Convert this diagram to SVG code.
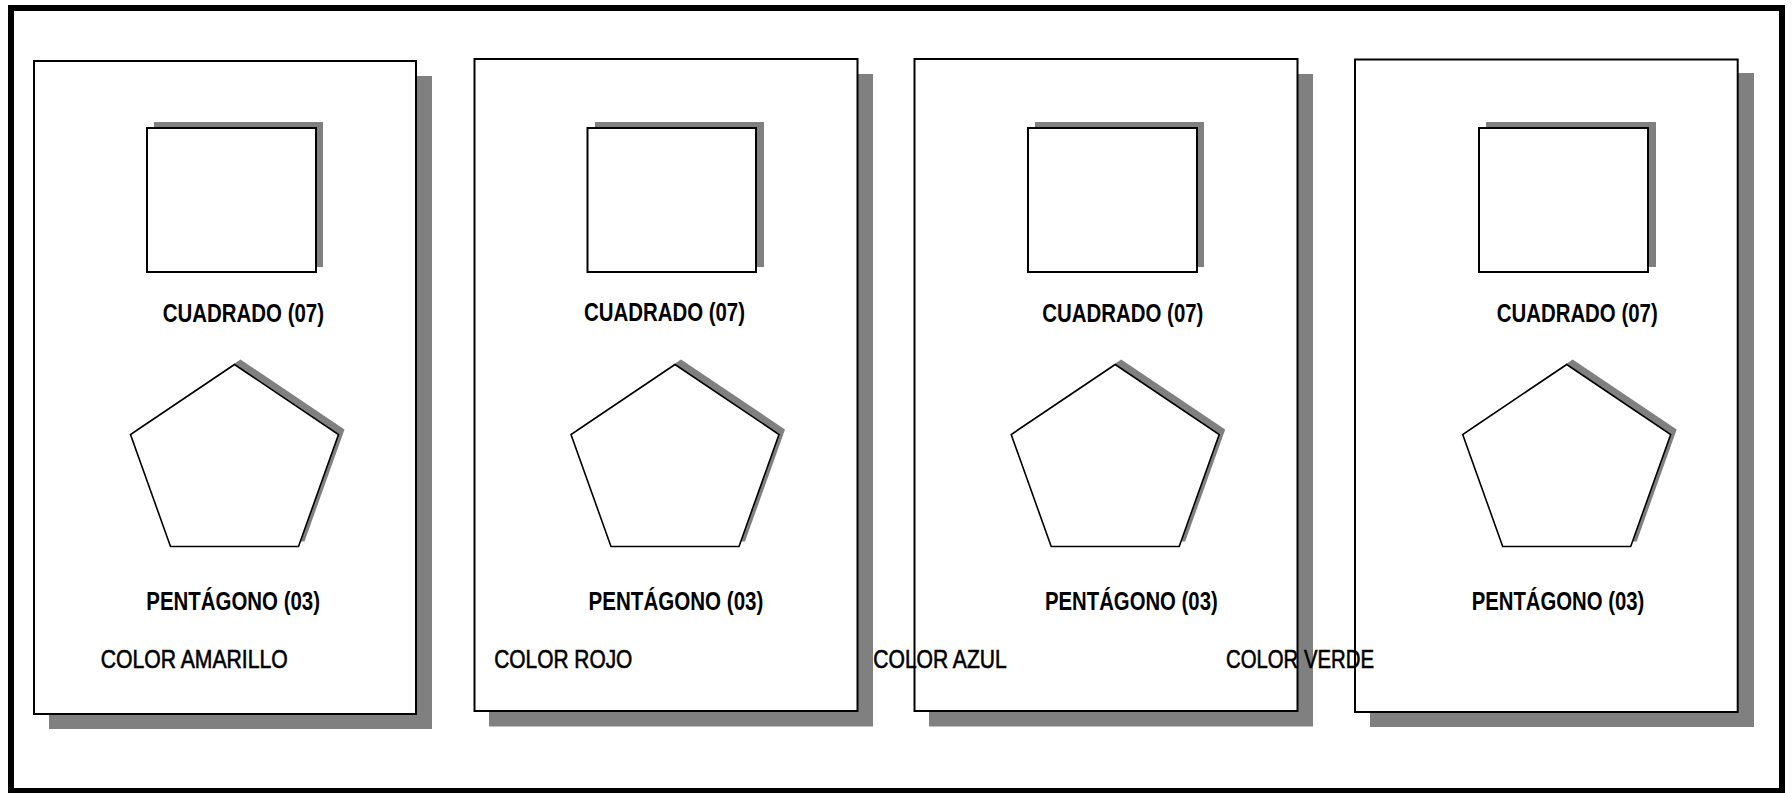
<svg xmlns="http://www.w3.org/2000/svg" width="1792" height="793" viewBox="0 0 1792 793">
<defs>
<style>
.frame{fill:none;stroke:#000;stroke-width:6}
.card{fill:#fff;stroke:#000;stroke-width:2}
.shadow{fill:#808080;stroke:none}
.shape{fill:#fff;stroke:#000;stroke-width:2}
.pent{fill:#fff;stroke:#000;stroke-width:1.6;stroke-linejoin:miter}
.lbl{font-family:"Liberation Sans Narrow","Arial Narrow","Liberation Sans",Arial,sans-serif;font-size:25px;fill:#000}
.b{font-weight:bold}
.r{stroke:#000;stroke-width:0.6}
</style>
<polygon id="pg" points="0,364.5 104,434.5 64,546.5 -64,546.5 -104,434.5"/>
</defs>
<rect x="0" y="0" width="1792" height="793" fill="#fff"/>
<rect class="frame" x="11" y="8" width="1771" height="783"/>

<g id="card1">
<rect class="shadow" x="49" y="76" width="383" height="653"/>
<rect class="card" x="34" y="61" width="382" height="653"/>
<rect class="shadow" x="154" y="122" width="169" height="145"/>
<rect class="shape" x="147" y="128" width="169" height="144"/>
<use href="#pg" class="shadow" transform="translate(240.5,-5)"/>
<use href="#pg" class="pent" transform="translate(234.5,0)"/>
<text class="lbl b" x="162.7" y="322" textLength="161.3" lengthAdjust="spacingAndGlyphs">CUADRADO (07)</text>
<text class="lbl b" x="146.3" y="609.5" textLength="173.7" lengthAdjust="spacingAndGlyphs">PENTÁGONO (03)</text>
<text class="lbl r" x="100.7" y="668" textLength="187" lengthAdjust="spacingAndGlyphs">COLOR AMARILLO</text>
</g>

<g id="card2">
<rect class="shadow" x="489" y="74" width="384" height="652.5"/>
<rect class="card" x="474.5" y="59" width="383" height="652"/>
<rect class="shadow" x="595" y="122" width="169" height="145"/>
<rect class="shape" x="587.5" y="128" width="168.5" height="144"/>
<use href="#pg" class="shadow" transform="translate(681,-5)"/>
<use href="#pg" class="pent" transform="translate(675,0)"/>
<text class="lbl b" x="584" y="321" textLength="161" lengthAdjust="spacingAndGlyphs">CUADRADO (07)</text>
<text class="lbl b" x="588.6" y="609.5" textLength="174.8" lengthAdjust="spacingAndGlyphs">PENTÁGONO (03)</text>
<text class="lbl r" x="494.3" y="668" textLength="138" lengthAdjust="spacingAndGlyphs">COLOR ROJO</text>
</g>

<g id="card3">
<rect class="shadow" x="929" y="74" width="384" height="652.5"/>
<rect class="card" x="914.5" y="59" width="383" height="652"/>
<rect class="shadow" x="1035" y="122" width="169" height="145"/>
<rect class="shape" x="1028" y="128" width="169" height="144"/>
<use href="#pg" class="shadow" transform="translate(1121.2,-5)"/>
<use href="#pg" class="pent" transform="translate(1115.2,0)"/>
<text class="lbl b" x="1042.3" y="322" textLength="161.1" lengthAdjust="spacingAndGlyphs">CUADRADO (07)</text>
<text class="lbl b" x="1045" y="609.5" textLength="172.7" lengthAdjust="spacingAndGlyphs">PENTÁGONO (03)</text>
<text class="lbl r" x="873.3" y="668" textLength="133.4" lengthAdjust="spacingAndGlyphs">COLOR AZUL</text>
</g>

<g id="card4">
<rect class="shadow" x="1370" y="73" width="384" height="654"/>
<rect class="card" x="1355" y="59.5" width="382.7" height="652.5"/>
<rect class="shadow" x="1486" y="122" width="170" height="145"/>
<rect class="shape" x="1479" y="128" width="169" height="144"/>
<use href="#pg" class="shadow" transform="translate(1572.7,-5)"/>
<use href="#pg" class="pent" transform="translate(1566.7,0)"/>
<text class="lbl b" x="1496.7" y="322" textLength="161" lengthAdjust="spacingAndGlyphs">CUADRADO (07)</text>
<text class="lbl b" x="1471.7" y="609.5" textLength="172.6" lengthAdjust="spacingAndGlyphs">PENTÁGONO (03)</text>
</g>

<g id="floating-labels">
<text class="lbl r" x="1226" y="668" textLength="148" lengthAdjust="spacingAndGlyphs">COLOR VERDE</text>
</g>

<g id="connectors"></g>
</svg>
